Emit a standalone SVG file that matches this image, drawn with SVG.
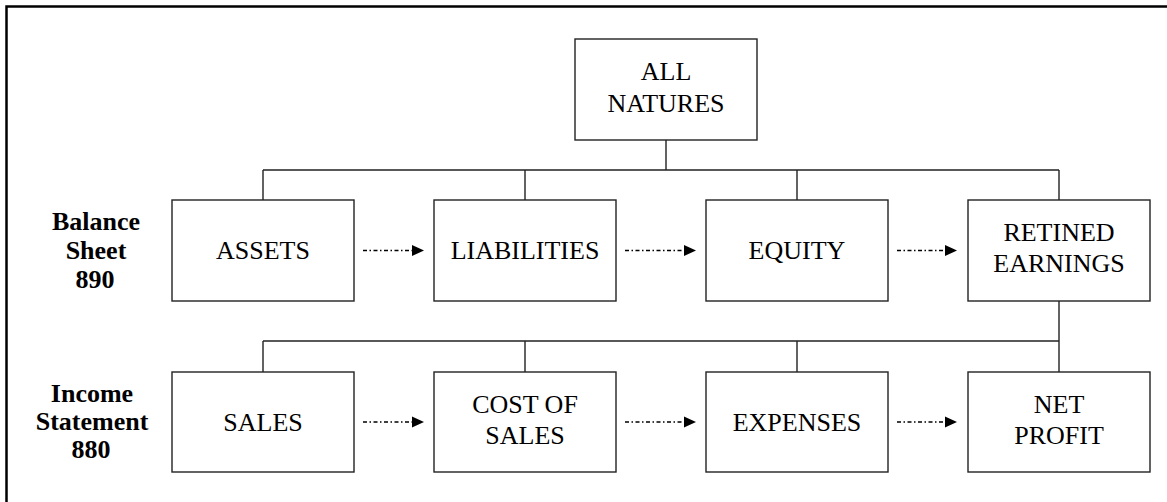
<svg xmlns="http://www.w3.org/2000/svg" width="1167" height="502" viewBox="0 0 1167 502">
<style>
.box{fill:#fff;stroke:#222;stroke-width:1.4}
.t{font-family:"Liberation Serif","Times New Roman",serif;font-size:26px;fill:#000;text-anchor:middle}
.lbl{font-family:"Liberation Serif","Times New Roman",serif;font-size:26px;font-weight:bold;fill:#000;text-anchor:middle}
.ln{stroke:#222;stroke-width:1.4;fill:none}
.ar{stroke:#000;stroke-width:1.3;fill:none;stroke-dasharray:4 2.5 1.5 2.5}
.hd{fill:#000}
.frame{stroke:#000;stroke-width:2.5;fill:none}
</style>
<defs>
<path id="head" d="M-12,-5.5 L0,0 L-12,5.5 z"/>
</defs>
<rect width="1167" height="502" fill="#fff"/>
<path class="frame" d="M6.5,502 V6.5 H1167"/>

<g id="labels">
<text class="lbl" x="96" y="230">Balance</text>
<text class="lbl" x="96" y="259">Sheet</text>
<text class="lbl" x="95" y="288">890</text>
<text class="lbl" x="92" y="402">Income</text>
<text class="lbl" x="92" y="430">Statement</text>
<text class="lbl" x="91" y="458">880</text>
</g>

<g id="connectors">
<path class="ln" d="M666,140 V170 M263,170 H1059 M263,170 V200 M525,170 V200 M797,170 V200 M1059,170 V200"/>
<path class="ln" d="M1059,301 V372 M263,341 H1059 M263,341 V372 M525,341 V372 M797,341 V372"/>
<line class="ar" x1="363" y1="250.5" x2="412" y2="250.5"/>
<use href="#head" class="hd" x="424" y="250.5"/>
<line class="ar" x1="625" y1="250.5" x2="684" y2="250.5"/>
<use href="#head" class="hd" x="696" y="250.5"/>
<line class="ar" x1="897" y1="250.5" x2="945" y2="250.5"/>
<use href="#head" class="hd" x="957" y="250.5"/>
<line class="ar" x1="363" y1="422" x2="412" y2="422"/>
<use href="#head" class="hd" x="424" y="422"/>
<line class="ar" x1="625" y1="422" x2="684" y2="422"/>
<use href="#head" class="hd" x="696" y="422"/>
<line class="ar" x1="897" y1="422" x2="945" y2="422"/>
<use href="#head" class="hd" x="957" y="422"/>
</g>

<g id="all-natures">
<rect class="box" x="575" y="39" width="182" height="101"/>
<text class="t" x="666" y="80">ALL</text>
<text class="t" x="666" y="112">NATURES</text>
</g>

<g id="assets">
<rect class="box" x="172" y="200" width="182" height="101"/>
<text class="t" x="263" y="259">ASSETS</text>
</g>
<g id="liabilities">
<rect class="box" x="434" y="200" width="182" height="101"/>
<text class="t" x="525" y="259">LIABILITIES</text>
</g>
<g id="equity">
<rect class="box" x="706" y="200" width="182" height="101"/>
<text class="t" x="797" y="259">EQUITY</text>
</g>
<g id="retained-earnings">
<rect class="box" x="968" y="200" width="182" height="101"/>
<text class="t" x="1059" y="241">RETINED</text>
<text class="t" x="1059" y="272">EARNINGS</text>
</g>

<g id="sales">
<rect class="box" x="172" y="372" width="182" height="100"/>
<text class="t" x="263" y="430.5">SALES</text>
</g>
<g id="cost-of-sales">
<rect class="box" x="434" y="372" width="182" height="100"/>
<text class="t" x="525" y="413">COST OF</text>
<text class="t" x="525" y="444">SALES</text>
</g>
<g id="expenses">
<rect class="box" x="706" y="372" width="182" height="100"/>
<text class="t" x="797" y="430.5">EXPENSES</text>
</g>
<g id="net-profit">
<rect class="box" x="968" y="372" width="182" height="100"/>
<text class="t" x="1059" y="413">NET</text>
<text class="t" x="1059" y="444">PROFIT</text>
</g>
</svg>
